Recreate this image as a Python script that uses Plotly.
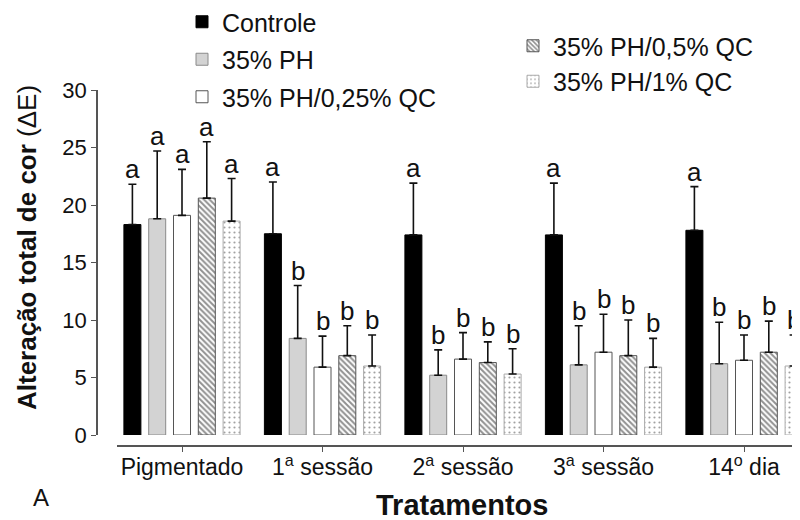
import plotly.graph_objects as go

categories = ["Pigmentado", "1<sup>a</sup> sessão", "2<sup>a</sup> sessão", "3<sup>a</sup> sessão", "14<sup>o</sup> dia"]
series_names = ["Controle", "35% PH", "35% PH/0,25% QC", "35% PH/0,5% QC", "35% PH/1% QC"]

controle = [18.3, 17.5, 17.4, 17.4, 17.8]
controle_top = [21.8, 22.0, 21.9, 21.9, 21.6]
ph = [18.8, 8.4, 5.2, 6.1, 6.2]
ph_top = [24.7, 13.0, 7.4, 9.5, 9.8]
qc025 = [19.1, 5.9, 6.6, 7.2, 6.5]
qc025_top = [23.1, 8.6, 8.9, 10.5, 8.7]
qc05 = [20.6, 6.9, 6.3, 6.9, 7.2]
qc05_top = [25.5, 9.5, 8.1, 10.0, 9.9]
qc1 = [18.6, 6.0, 5.3, 5.9, 6.0]
qc1_top = [22.3, 8.7, 7.5, 8.4, 8.7]

letters_controle = ["a", "a", "a", "a", "a"]
letters_ph = ["a", "b", "b", "b", "b"]
letters_qc025 = ["a", "b", "b", "b", "b"]
letters_qc05 = ["a", "b", "b", "b", "b"]
letters_qc1 = ["a", "b", "b", "b", "b"]

y_ticks = [0, 5, 10, 15, 20, 25, 30]

means = [controle, ph, qc025, qc05, qc1]
tops = [controle_top, ph_top, qc025_top, qc05_top, qc1_top]
letters = [letters_controle, letters_ph, letters_qc025, letters_qc05, letters_qc1]

styles = [
    dict(color="#000000", line=dict(color="#000000", width=1)),
    dict(color="#d3d3d3", line=dict(color="#8a8a8a", width=1)),
    dict(color="#ffffff", line=dict(color="#555555", width=1)),
    dict(color="#ffffff", line=dict(color="#555555", width=1),
         pattern=dict(shape="\\", fgcolor="#222222", bgcolor="#ffffff", size=4, solidity=0.5)),
    dict(color="#ffffff", line=dict(color="#aaaaaa", width=1),
         pattern=dict(shape=".", fgcolor="#444444", bgcolor="#ffffff", size=5, solidity=0.15)),
]
legend_ids = ["legend", "legend", "legend", "legend2", "legend2"]

FONT = "Liberation Sans, Arial, sans-serif"
slot = 0.1765
bar_w = 0.121
groups = list(range(len(categories)))

fig = go.Figure()
annotations = []
for k in range(5):
    xs = [g + (k - 2) * slot for g in groups]
    err = [t - m for t, m in zip(tops[k], means[k])]
    fig.add_trace(go.Bar(
        x=xs, y=means[k], width=bar_w, name=series_names[k],
        marker=styles[k],
        error_y=dict(type="data", array=err, arrayminus=[0] * len(err), symmetric=False,
                     color="#111111", thickness=1.6, width=4),
        legend=legend_ids[k], legendgroup=series_names[k],
        showlegend=True,
    ))
    for g, x in enumerate(xs):
        annotations.append(dict(
            x=x, y=tops[k][g], xref="x", yref="y", text=letters[k][g],
            showarrow=False, yanchor="bottom", xanchor="center", yshift=-2,
            font=dict(family=FONT, size=26, color="#111111"),
        ))

# page body has an 8px default margin; figure coords = screen coords - 8
ML, MT, MB = 72, 82, 82
PW = 800 - ML
PH = 520 - MT - MB

annotations.append(dict(
    x=(19 - ML) / PW, y=1 - (240 - MT) / PH, xref="paper", yref="paper", textangle=-90,
    text="<b>Alteração total de cor</b> (ΔE)", showarrow=False,
    xanchor="center", yanchor="middle",
    font=dict(family=FONT, size=26, color="#111111"),
))
annotations.append(dict(
    x=(454 - ML) / PW, y=-(497 - (MT + PH)) / PH, xref="paper", yref="paper",
    text="<b>Tratamentos</b>", showarrow=False,
    xanchor="center", yanchor="middle",
    font=dict(family=FONT, size=29, color="#111111"),
))
annotations.append(dict(
    x=(33 - ML) / PW, y=-(489 - (MT + PH)) / PH, xref="paper", yref="paper",
    text="A", showarrow=False, xanchor="center", yanchor="middle",
    font=dict(family=FONT, size=24, color="#111111"),
))

px_per_unit = 140.5
g0 = 174
x_left = 109
x_range = [(x_left - g0) / px_per_unit, (800 - g0) / px_per_unit]

fig.update_layout(
    width=800, height=520,
    margin=dict(l=ML, r=0, t=MT, b=MB, autoexpand=False),
    plot_bgcolor="white", paper_bgcolor="white",
    barmode="overlay",
    font=dict(family=FONT, color="#111111"),
    annotations=annotations,
    xaxis=dict(
        domain=[(x_left - ML) / PW, 1], anchor="free", position=0,
        range=x_range,
        tickmode="array", tickvals=groups, ticktext=categories,
        showline=True, linecolor="#555555", linewidth=1.5,
        ticks="outside", ticklen=5, tickwidth=1, tickcolor="#555555",
        ticklabelstandoff=-4,
        showgrid=False, zeroline=False, automargin=False,
        tickfont=dict(family=FONT, size=23, color="#111111"),
    ),
    yaxis=dict(
        domain=[11 / PH, 1], anchor="free", position=(89 - ML) / PW,
        range=[0, 30],
        tickmode="array", tickvals=y_ticks,
        showline=True, linecolor="#555555", linewidth=1.5,
        ticks="outside", ticklen=5, tickwidth=1, tickcolor="#555555",
        showgrid=False, zeroline=False, automargin=False,
        tickfont=dict(family=FONT, size=22, color="#111111"),
    ),
    legend=dict(
        x=(174 - ML) / PW, y=1 + (MT + 9) / PH, xanchor="left", yanchor="top",
        font=dict(family=FONT, size=25, color="#111111"),
        tracegroupgap=2, bgcolor="rgba(0,0,0,0)", borderwidth=0,
    ),
    legend2=dict(
        x=(505 - ML) / PW, y=1 + (MT - 15) / PH, xanchor="left", yanchor="top",
        font=dict(family=FONT, size=25, color="#111111"),
        tracegroupgap=0, bgcolor="rgba(0,0,0,0)", borderwidth=0,
    ),
)

fig.write_html("out.html")
